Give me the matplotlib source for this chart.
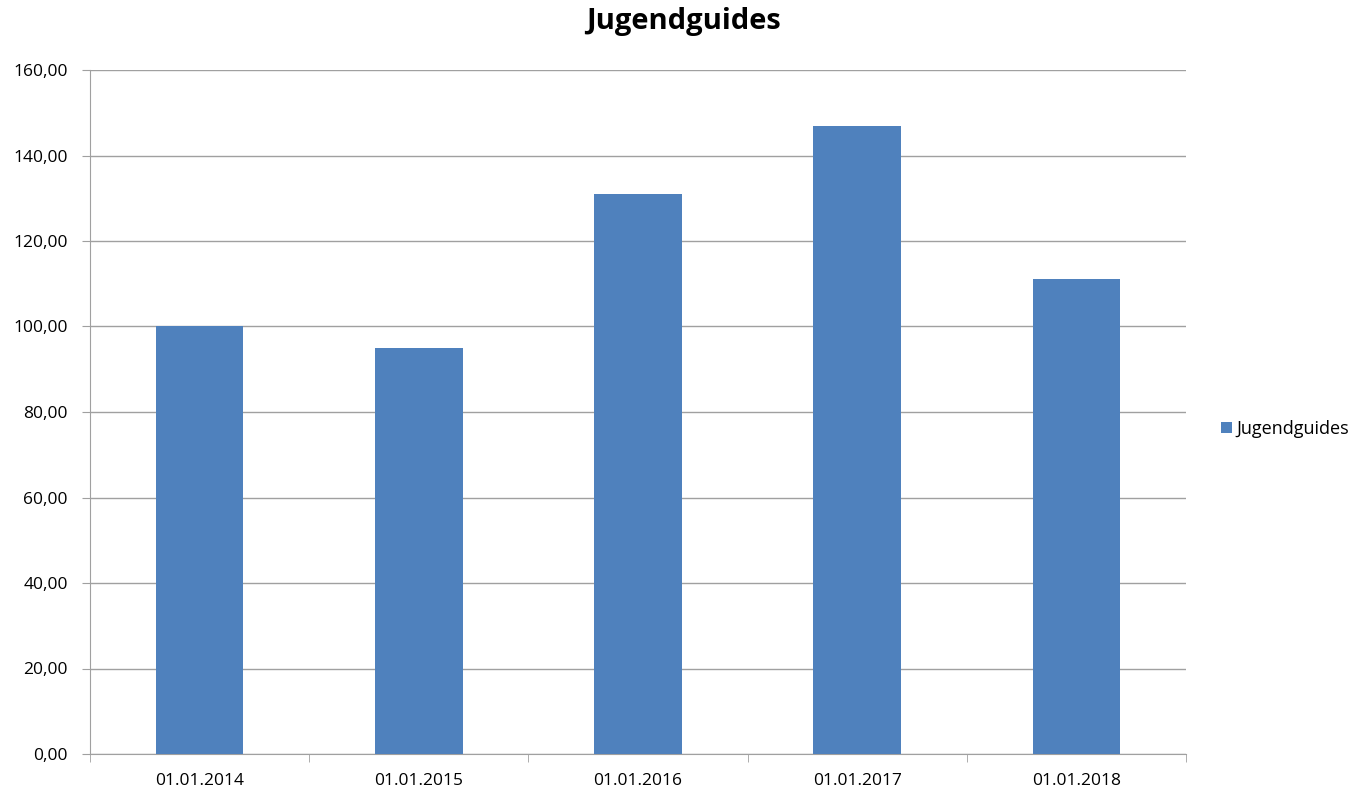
import numpy as np
import matplotlib.pyplot as plt
from matplotlib.ticker import FuncFormatter, FixedLocator

plt.rcParams['font.family'] = ['Open Sans', 'DejaVu Sans']

# Daten
dates = ['01.01.2014', '01.01.2015', '01.01.2016', '01.01.2017', '01.01.2018']
guides = [100, 95, 131, 147, 111]

fig = plt.figure(figsize=(13.53, 7.92), dpi=100)
ax = fig.add_axes([90 / 1353, 1 - 754 / 792, (1186 - 90) / 1353, (754 - 70) / 792])

x = np.arange(len(dates))
ax.bar(x, guides, width=0.4, color='#4f81bd', label='Jugendguides', zorder=3)

ax.set_xlim(-0.5, len(dates) - 0.5)
ax.set_ylim(0, 160)
ax.set_yticks(np.arange(0, 161, 20))
ax.yaxis.set_major_formatter(FuncFormatter(lambda v, p: f'{v:.2f}'.replace('.', ',')))
ax.yaxis.grid(True, color='#a0a0a0', linewidth=1, zorder=0)

# Kategorien-Beschriftung, Striche zwischen den Kategorien
ax.set_xticks(x)
ax.set_xticklabels(dates)
ax.tick_params(axis='x', which='major', length=0, pad=14, labelsize=12.5)
ax.xaxis.set_minor_locator(FixedLocator(np.arange(-0.5, len(dates), 1)))
ax.tick_params(axis='x', which='minor', length=6, color='#a0a0a0', direction='out')
ax.tick_params(axis='y', length=6, color='#a0a0a0', labelsize=12.5, pad=10)

for s in ['top', 'right']:
    ax.spines[s].set_visible(False)
for s in ['left', 'bottom']:
    ax.spines[s].set_color('#a0a0a0')

fig.text(0.505, 1 - 22 / 792, 'Jugendguides', fontsize=21, fontweight='bold',
         ha='center', va='center')

ax.legend(loc='center left', bbox_to_anchor=(1.017, 0.475), frameon=False,
          fontsize=13, handlelength=0.6, handleheight=0.6, handletextpad=0.25)

fig.savefig('out.png', dpi=100)
